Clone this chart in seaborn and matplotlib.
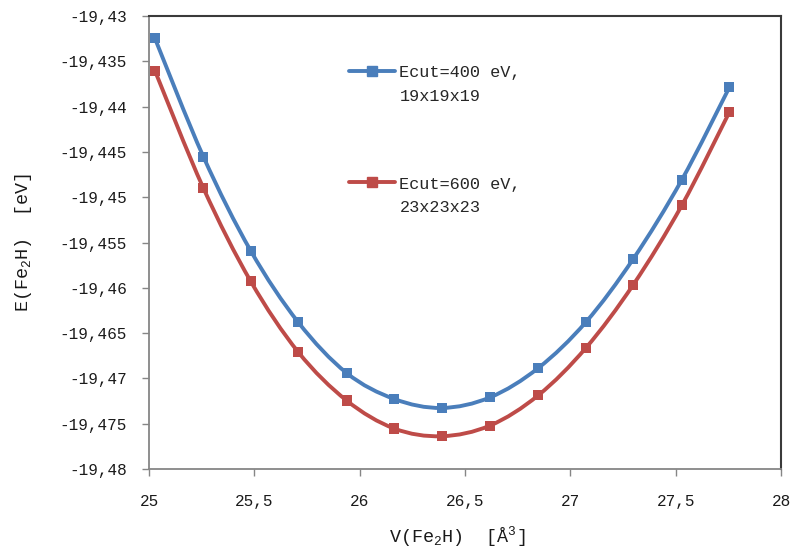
import numpy as np
import pandas as pd
import matplotlib
matplotlib.use("Agg")
import matplotlib.pyplot as plt
from matplotlib.path import Path
from matplotlib.patches import PathPatch
from matplotlib.lines import Line2D
from matplotlib.legend_handler import HandlerLine2D
from matplotlib.ticker import FuncFormatter, MultipleLocator
import seaborn as sns

# Cell volume per formula unit [Å^3]
volume = [25.028, 25.258, 25.483, 25.709, 25.938, 26.164, 26.389,
          26.619, 26.848, 27.074, 27.299, 27.529, 27.755]

# Total energy [eV] for two convergence settings
energy_400 = [-19.43246, -19.44552, -19.45592, -19.46382, -19.46940, -19.47227, -19.47326,
              -19.47209, -19.46885, -19.46378, -19.45680, -19.44809, -19.43787]
energy_600 = [-19.43603, -19.44899, -19.45929, -19.46711, -19.47244, -19.47553, -19.47638,
              -19.47520, -19.47186, -19.46663, -19.45965, -19.45091, -19.44061]

labels = ["Ecut=400 eV,\n19x19x19", "Ecut=600 eV,\n23x23x23"]
colors = ["#4A7EBB", "#BE4B48"]

df = pd.concat([
    pd.DataFrame({"V": volume, "E": energy_400, "series": labels[0]}),
    pd.DataFrame({"V": volume, "E": energy_600, "series": labels[1]}),
])

sns.set_theme(style="white")
plt.rcParams["font.family"] = ["Liberation Mono", "DejaVu Sans"]
plt.rcParams["mathtext.default"] = "regular"
plt.rcParams["mathtext.fontset"] = "custom"
plt.rcParams["mathtext.rm"] = "Liberation Mono"

fig = plt.figure(figsize=(7.99, 5.56), dpi=100)
ax = fig.add_axes([149 / 799, 1 - 469 / 556, 632 / 799, 453 / 556])


def smooth_path(x, y):
    """Catmull-Rom style Bezier path through the points (spreadsheet smoothing)."""
    x = np.asarray(x, float)
    y = np.asarray(y, float)
    n = len(x)
    verts = [(x[0], y[0])]
    codes = [Path.MOVETO]
    for i in range(n - 1):
        i0 = max(i - 1, 0)
        i3 = min(i + 2, n - 1)
        c1 = (x[i] + (x[i + 1] - x[i0]) / 6, y[i] + (y[i + 1] - y[i0]) / 6)
        c2 = (x[i + 1] - (x[i3] - x[i]) / 6, y[i + 1] - (y[i3] - y[i]) / 6)
        verts += [c1, c2, (x[i + 1], y[i + 1])]
        codes += [Path.CURVE4] * 3
    return Path(verts, codes)


for lab, col in zip(labels, colors):
    sub = df[df["series"] == lab]
    ax.add_patch(PathPatch(smooth_path(sub["V"], sub["E"]), facecolor="none",
                           edgecolor=col, lw=2.8, zorder=2, capstyle="round"))

sns.scatterplot(data=df, x="V", y="E", hue="series", palette=colors,
                marker="s", s=52, linewidth=0, ax=ax, zorder=3, legend=False)

ax.set_xlim(25, 28)
ax.set_ylim(-19.48, -19.43)
ax.xaxis.set_major_locator(MultipleLocator(0.5))
ax.yaxis.set_major_locator(MultipleLocator(0.005))
comma = FuncFormatter(lambda v, pos: ("%g" % round(v, 4)).replace(".", ","))
ax.xaxis.set_major_formatter(comma)
ax.yaxis.set_major_formatter(comma)

ax.tick_params(axis="both", which="major", direction="out", length=5, width=1,
               color="#868686", labelsize=11.6, labelcolor="#1a1a1a")
ax.tick_params(axis="y", pad=11)
ax.tick_params(axis="x", pad=13)
ax.yaxis.set_ticks_position("left")
ax.xaxis.set_ticks_position("bottom")

for side in ["left", "bottom"]:
    ax.spines[side].set_color("#868686")
    ax.spines[side].set_linewidth(1.3)
for side in ["top", "right"]:
    ax.spines[side].set_color("#3a3a3a")
    ax.spines[side].set_linewidth(1.5)

ax.set_xlabel("V(Fe$_2$H)  [Å$^3$]", fontsize=13.2, color="#1a1a1a")
ax.set_ylabel("E(Fe$_2$H)  [eV]", fontsize=13.2, color="#1a1a1a")
ax.xaxis.set_label_coords((457 - 149) / 632, -(537 - 469) / 453)
ax.yaxis.set_label_coords(-(149 - 23) / 632, 0.5)
ax.xaxis.label.set_va("center")
ax.yaxis.label.set_va("center")


class FirstLineHandler(HandlerLine2D):
    """Line handle aligned with the first line of a two-line label."""

    def __init__(self, shift, **kw):
        super().__init__(**kw)
        self.shift = shift

    def create_artists(self, legend, orig_handle, xdescent, ydescent,
                       width, height, fontsize, trans):
        artists = super().create_artists(legend, orig_handle, xdescent, ydescent,
                                         width, height, fontsize, trans)
        for a in artists:
            a.set_ydata(np.asarray(a.get_ydata(), float) + self.shift)
        return artists


handles = [Line2D([], [], color=c, lw=2.8, marker="s", markersize=7) for c in colors]
leg = ax.legend(handles, labels, loc="upper left",
                bbox_to_anchor=(341 / 799, 1 - 57 / 556),
                bbox_transform=fig.transFigure, frameon=False, fontsize=12.2,
                handlelength=2.7, handletextpad=0.25, labelspacing=4.3, borderpad=0,
                handler_map={Line2D: FirstLineHandler(shift=10)})
for t in leg.get_texts():
    t.set_linespacing(1.7)

fig.savefig("out.png", dpi=100)
